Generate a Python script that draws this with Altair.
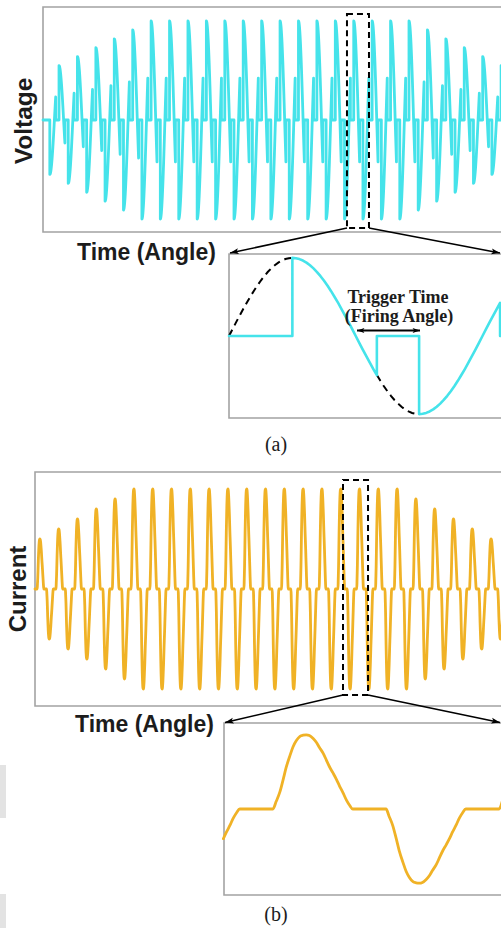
import altair as alt
import pandas as pd

# ---------------- values ----------------
# supply sine (dashed reference curve), one quarter wave sampled every 5 degrees
SINE_QUARTER = [0.000, 0.087, 0.174, 0.259, 0.342, 0.423, 0.500, 0.574, 0.643,
                0.707, 0.766, 0.819, 0.866, 0.906, 0.940, 0.966, 0.985, 0.996, 1.000]

# (a) voltage: relative amplitude of each of the 25 drawn cycles
VOLT_AMP = [0.55, 0.64, 0.73, 0.82, 0.91,
            1.00, 1.00, 1.00, 1.00, 1.00, 1.00, 1.00, 1.00, 1.00, 1.00,
            1.00, 1.00, 1.00, 1.00, 1.00,
            0.91, 0.82, 0.73, 0.64, 0.55]
# conduction windows (supply degrees): firing angle -> extinction angle
VOLT_MAIN_ON = [270, 450]
VOLT_MAIN_OFF = [385, 565]
VOLT_ZOOM_ON = [90, 270]
VOLT_ZOOM_OFF = [210, 385]
VOLT_ZOOM_DASHED = [(0, 90), (210, 270)]
VOLT_MAIN_WINDOW = [6078, 6508]        # dashed zoom window (degrees)

# (b) current: relative amplitude of each of the 25 drawn cycles
CURR_AMP = [0.50, 0.60, 0.70, 0.80, 0.90,
            1.00, 1.00, 1.00, 1.00, 1.00, 1.00, 1.00, 1.00, 1.00, 1.00,
            1.00, 1.00, 1.00, 1.00, 1.00,
            0.90, 0.80, 0.70, 0.60, 0.50]
# one current pulse (degrees after its start, relative value)
PULSE_DEG = [0, 5, 11, 16, 21, 27, 32, 37, 43, 48, 53, 58, 64, 69, 74, 80,
             85, 90, 96, 101, 106, 112, 117, 122, 127]
PULSE_VAL = [0.00, 0.10, 0.23, 0.39, 0.56, 0.72, 0.84, 0.92, 0.98, 0.995, 1.00,
             0.99, 0.95, 0.90, 0.83, 0.75, 0.66, 0.57, 0.48, 0.40, 0.31, 0.21,
             0.12, 0.05, 0.00]
CURR_MAIN_WINDOW = [5856, 6335]

# ---------------- styling / layout ----------------
CYAN = "#45e3ea"
ORANGE = "#f0b226"
FRAME = "#a3a3a3"
INK = "#1c1c1c"
SANS = "Liberation Sans"
SERIF = "Liberation Serif"
ONE = pd.DataFrame({"k": [0]})


def wave(deg):
    q = (deg // 5) % 72
    if q <= 18:
        return SINE_QUARTER[q]
    if q <= 36:
        return SINE_QUARTER[36 - q]
    if q <= 54:
        return -SINE_QUARTER[q - 36]
    return -SINE_QUARTER[72 - q]


def sc(dom, rng):
    return alt.Scale(domain=dom, range=rng, nice=False, zero=False)


# ---- data tables ----
A_XDOM, A_XRNG = [137.1, 9147], [43, 504]
A_YDOM, A_YRNG = [-1.131, 1.141], [232, 7]
AZ_XDOM, AZ_XRNG = [0, 390], [229, 503.6]
AZ_YDOM, AZ_YRNG = [-1.05, 1.05], [418, 254]
B_XDOM, B_XRNG = [-42.1, 8939], [35, 504]
B_YDOM, B_YRNG = [-1.17, 1.17], [706, 472]
BZ_XDOM, BZ_XRNG = [-78, 366], [224, 502.8]
BZ_YDOM, BZ_YRNG = [-1.16, 1.16], [895, 723]

rows = [(A_XDOM[0], 0.0)]
for k, amp in enumerate(VOLT_AMP):
    base = 360 * k
    for on, off in zip(VOLT_MAIN_ON, VOLT_MAIN_OFF):
        rows.append((base + on, 0.0))
        for d in range(on, off + 1, 5):
            rows.append((base + d, amp * wave(d)))
        rows.append((base + off, 0.0))
volt_main = pd.DataFrame(rows, columns=["deg", "v"])
volt_main["i"] = range(len(volt_main))

rows = [(0, 0.0)]
for on, off in zip(VOLT_ZOOM_ON, VOLT_ZOOM_OFF):
    rows.append((on, 0.0))
    for d in range(on, off + 1, 5):
        rows.append((d, wave(d)))
    rows.append((off, 0.0))
rows.append((AZ_XDOM[1], 0.0))
volt_zoom = pd.DataFrame(rows, columns=["deg", "v"])
volt_zoom["i"] = range(len(volt_zoom))

rows = []
for s, (a, b) in enumerate(VOLT_ZOOM_DASHED):
    for d in range(a, b + 1, 5):
        rows.append((d, wave(d), s))
volt_dash = pd.DataFrame(rows, columns=["deg", "v", "seg"])
volt_dash["i"] = range(len(volt_dash))


def current_rows(amps, start):
    out = []
    for k, amp in enumerate(amps):
        base = 360 * (k + start)
        for d, v in zip(PULSE_DEG, PULSE_VAL):
            out.append((base + d, amp * v))
        for d, v in zip(PULSE_DEG, PULSE_VAL):
            out.append((base + 180 + d, -amp * v))
    return out


curr_main = pd.DataFrame([(B_XDOM[0], 0.0)] + current_rows(CURR_AMP, 0), columns=["deg", "v"])
curr_main["i"] = range(len(curr_main))
cz = [r for r in current_rows([1.0, 1.0, 1.0], -1) if -80 <= r[0] <= 368]
curr_zoom = pd.DataFrame(cz, columns=["deg", "v"])
curr_zoom["i"] = range(len(curr_zoom))


def panel(df, xdom, xrng, ydom, yrng, color, width, interp="linear",
          window=None, window_y=None, dashed=None):
    xs, ys = sc(xdom, xrng), sc(ydom, yrng)
    fdf = pd.DataFrame({"x": [xdom[0]], "x2": [xdom[1]], "y": [ydom[0]], "y2": [ydom[1]]})
    layers = [
        alt.Chart(fdf).mark_rect(fillOpacity=0, stroke=FRAME, strokeWidth=1.6).encode(
            x=alt.X("x:Q", scale=xs, axis=None), x2="x2:Q",
            y=alt.Y("y:Q", scale=ys, axis=None), y2="y2:Q"),
    ]
    if dashed is not None:
        layers.append(
            alt.Chart(dashed).mark_line(color="black", strokeWidth=2, strokeDash=[7, 5]).encode(
                x=alt.X("deg:Q", scale=xs, axis=None), y=alt.Y("v:Q", scale=ys, axis=None),
                detail="seg:N", order="i:Q"))
    layers.append(
        alt.Chart(df).mark_line(color=color, strokeWidth=width, strokeJoin="round",
                                strokeCap="round", interpolate=interp).encode(
            x=alt.X("deg:Q", scale=xs, axis=None), y=alt.Y("v:Q", scale=ys, axis=None),
            order="i:Q"))
    if window is not None:
        wdf = pd.DataFrame({"x": [window[0]], "x2": [window[1]],
                            "y": [window_y[0]], "y2": [window_y[1]]})
        layers.append(
            alt.Chart(wdf).mark_rect(fillOpacity=0, stroke="black", strokeWidth=2,
                                     strokeDash=[6, 4]).encode(
                x=alt.X("x:Q", scale=xs, axis=None), x2="x2:Q",
                y=alt.Y("y:Q", scale=ys, axis=None), y2="y2:Q"))
    return alt.layer(*layers)


def txt(s, x, y, size, font, weight="normal", angle=0, align="center"):
    return alt.Chart(ONE).mark_text(text=s, font=font, fontSize=size, fontWeight=weight,
                                    angle=angle, align=align, baseline="alphabetic",
                                    color=INK).encode(x=alt.value(x), y=alt.value(y))


HEAD = "M0,0L-1,-0.34L-0.78,0L-1,0.34Z"


def arrow(x0, y0, x1, y1, head_at_start=False, size=300, width=1.6):
    import math
    layers = [alt.Chart(ONE).mark_rule(color="black", strokeWidth=width).encode(
        x=alt.value(x0), y=alt.value(y0), x2=alt.value(x1), y2=alt.value(y1))]
    ang = math.degrees(math.atan2(y1 - y0, x1 - x0)) % 360
    layers.append(alt.Chart(ONE).mark_point(shape=HEAD, filled=True, size=size, color="black",
                                            opacity=1, angle=ang).encode(
        x=alt.value(x1), y=alt.value(y1)))
    if head_at_start:
        layers.append(alt.Chart(ONE).mark_point(shape=HEAD, filled=True, size=size,
                                                color="black", opacity=1,
                                                angle=(ang + 180) % 360).encode(
            x=alt.value(x0), y=alt.value(y0)))
    return layers


deco = [
    alt.Chart(ONE).mark_rect(color="#e3e3e3").encode(
        x=alt.value(0), x2=alt.value(6), y=alt.value(765), y2=alt.value(818)),
    alt.Chart(ONE).mark_rect(color="#e3e3e3").encode(
        x=alt.value(0), x2=alt.value(6), y=alt.value(894), y2=alt.value(928)),
]

layers = deco + [
    panel(volt_main, A_XDOM, A_XRNG, A_YDOM, A_YRNG, CYAN, 2.8,
          window=VOLT_MAIN_WINDOW, window_y=[-1.091, 1.071]),
    panel(volt_zoom, AZ_XDOM, AZ_XRNG, AZ_YDOM, AZ_YRNG, CYAN, 2.6, dashed=volt_dash),
    panel(curr_main, B_XDOM, B_XRNG, B_YDOM, B_YRNG, ORANGE, 2.8, interp="monotone",
          window=CURR_MAIN_WINDOW, window_y=[-1.06, 1.09]),
    panel(curr_zoom, BZ_XDOM, BZ_XRNG, BZ_YDOM, BZ_YRNG, ORANGE, 2.8, interp="monotone"),
]
layers += arrow(347, 228, 230, 253)
layers += arrow(369, 228, 500, 253)
layers += arrow(343, 695, 225, 722.5)
layers += arrow(368, 695, 500, 722.5)
layers += arrow(357, 330.5, 420, 330.5, head_at_start=True, size=220, width=1.8)

layers += [
    txt("Voltage", 32, 121, 24.5, SANS, "bold", angle=270),
    txt("Time (Angle)", 77, 259.5, 23, SANS, "bold", align="left"),
    txt("Trigger Time", 398, 303, 18, SERIF, "bold"),
    txt("(Firing Angle)", 399, 322, 18, SERIF, "bold"),
    txt("(a)", 276, 451, 20, SERIF),
    txt("Current", 25.5, 589, 24, SANS, "bold", angle=270),
    txt("Time (Angle)", 75, 731.5, 23, SANS, "bold", align="left"),
    txt("(b)", 276, 921, 20, SERIF),
]

chart = alt.layer(*layers).resolve_scale(x="independent", y="independent").properties(
    width=501, height=928, padding=0, autosize=alt.AutoSizeParams(type="none"),
    background="white").configure_view(stroke=None)

chart.save("out.html", embed_options={"renderer": "svg", "actions": False})
